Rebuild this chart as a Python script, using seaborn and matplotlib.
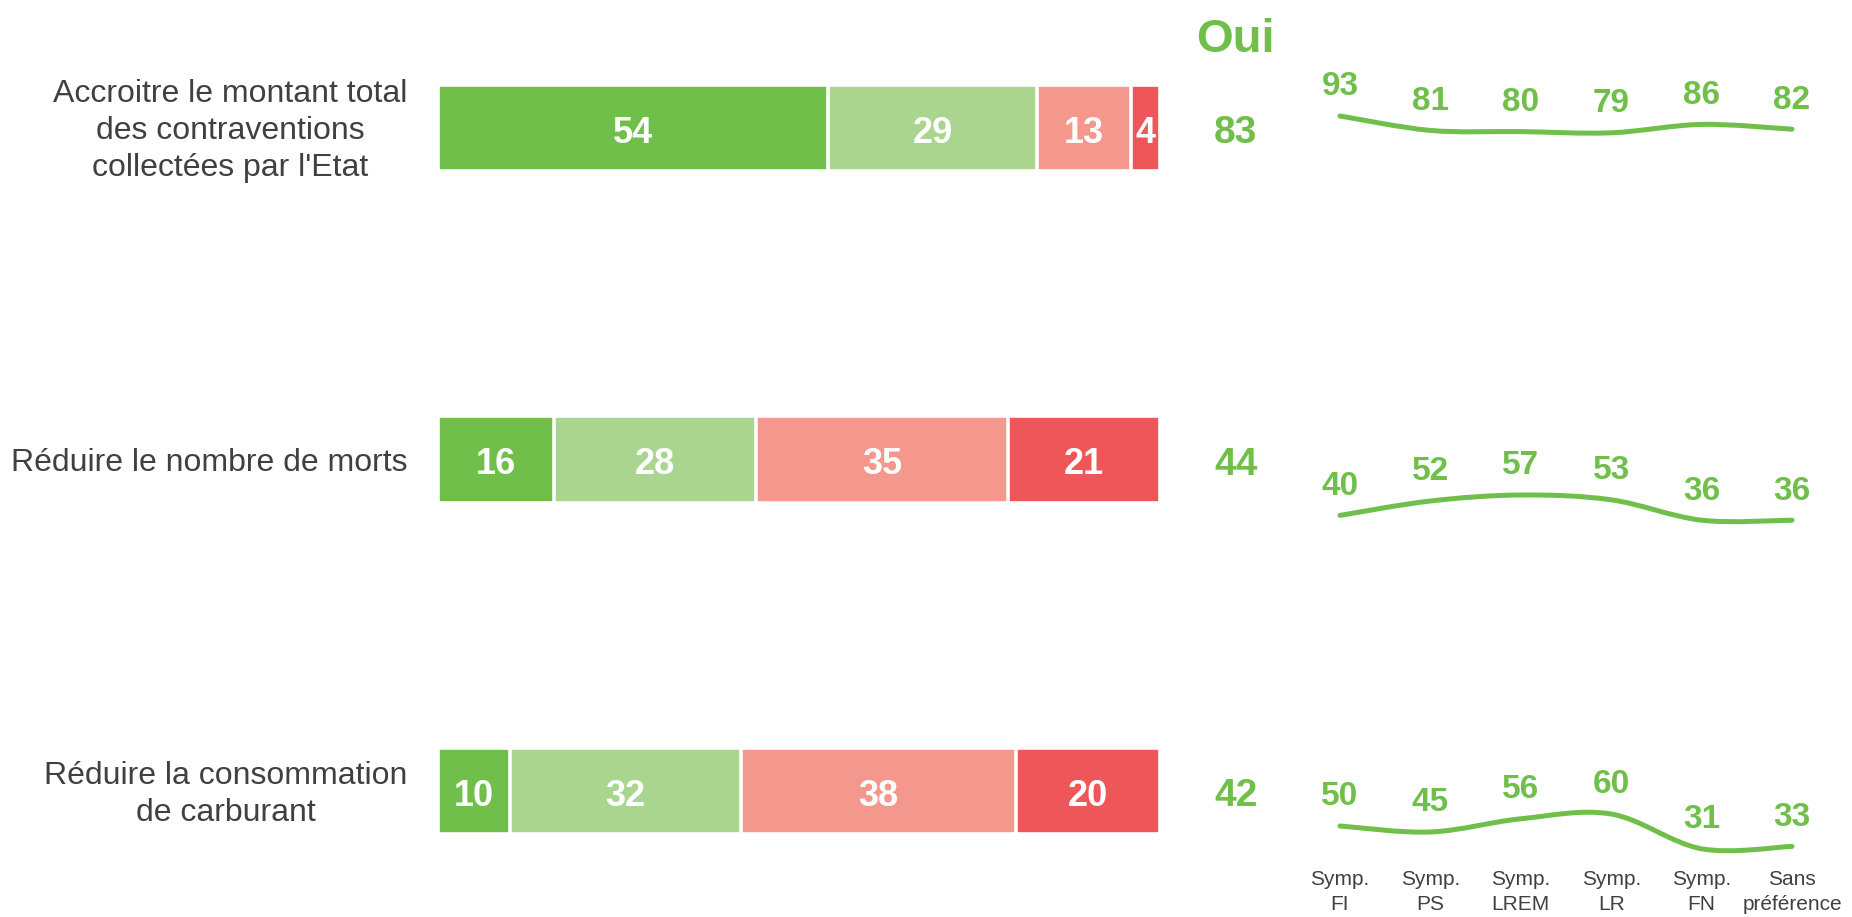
import pandas as pd
import matplotlib.pyplot as plt
import seaborn as sns
from matplotlib.path import Path
from matplotlib.patches import PathPatch

# Données
questions = [
    "Accroitre le montant total\ndes contraventions\ncollectées par l'Etat",
    "Réduire le nombre de morts",
    "Réduire la consommation\nde carburant",
]
oui_tout_a_fait = [54, 16, 10]
oui_plutot = [29, 28, 32]
non_plutot = [13, 35, 38]
non_pas_du_tout = [4, 21, 20]
total_oui = [83, 44, 42]

groupes = ["Symp.\nFI", "Symp.\nPS", "Symp.\nLREM", "Symp.\nLR", "Symp.\nFN", "Sans\npréférence"]
oui_par_groupe = [
    [93, 81, 80, 79, 86, 82],
    [40, 52, 57, 53, 36, 36],
    [50, 45, 56, 60, 31, 33],
]

couleurs = ["#70BF4A", "#AAD58E", "#F4978D", "#EF565A"]
vert = "#70BF4A"
gris = "#404040"
narrow = ["Liberation Sans Narrow", "Liberation Sans", "DejaVu Sans"]

sns.set_theme(style="white")
plt.rcParams["font.family"] = ["Liberation Sans", "DejaVu Sans"]

W, H = 1852, 917
fig = plt.figure(figsize=(W / 100, H / 100), dpi=100)

# Barres empilées (technique des cumuls superposés)
ax = fig.add_axes([438 / W, 1 - 907 / H, 722 / W, (907 - 11.8) / H])
df = pd.DataFrame({
    "question": questions,
    "s1": oui_tout_a_fait,
    "s2": oui_plutot,
    "s3": non_plutot,
    "s4": non_pas_du_tout,
})
df["c1"] = df["s1"]
df["c2"] = df["c1"] + df["s2"]
df["c3"] = df["c2"] + df["s3"]
df["c4"] = df["c3"] + df["s4"]

for col, color in zip(["c4", "c3", "c2", "c1"], couleurs[::-1]):
    sns.barplot(data=df, x=col, y="question", orient="h", color=color,
                width=0.26, edgecolor="white", linewidth=2.6, ax=ax,
                saturation=1)

ax.set_xlim(0, 100)
ax.set_ylim(2.35, -0.35)
ax.axis("off")

dy = 0.016  # petit décalage pour centrer visuellement les chiffres
for i, row in df.iterrows():
    starts = [0, row["c1"], row["c2"], row["c3"]]
    for s, v in zip(starts, [row["s1"], row["s2"], row["s3"], row["s4"]]):
        ax.text(s + v / 2, i + dy, str(v), ha="center", va="center", color="white",
                fontsize=26, fontweight="bold", family=narrow)
    ax.text(-4.2, i + 0.01, row["question"], ha="right", va="center",
            multialignment="center", fontsize=23, color=gris,
            linespacing=1.3)
    ax.text(110.5, i + dy, str(total_oui[i]), ha="center", va="center",
            color=vert, fontsize=28, fontweight="bold", family=narrow)

ax.text(110.5, -0.265, "Oui", ha="center", va="center", color=vert,
        fontsize=34, fontweight="bold", family=narrow)


def courbe_lissee(xs, ys):
    # Catmull-Rom -> Bézier cubique
    pts = list(zip(xs, ys))
    p = [pts[0]] + pts + [pts[-1]]
    verts = [pts[0]]
    codes = [Path.MOVETO]
    for k in range(1, len(p) - 2):
        p0, p1, p2, p3 = p[k - 1], p[k], p[k + 1], p[k + 2]
        c1 = (p1[0] + (p2[0] - p0[0]) / 6, p1[1] + (p2[1] - p0[1]) / 6)
        c2 = (p2[0] - (p3[0] - p1[0]) / 6, p2[1] - (p3[1] - p1[1]) / 6)
        verts += [c1, c2, p2]
        codes += [Path.CURVE4] * 3
    return Path(verts, codes)


# Petites courbes par sympathie partisane
tops = [116, 495, 814]
span = 40
hpx = 48
for r, vals in enumerate(oui_par_groupe):
    sax = fig.add_axes([1340 / W, 1 - (tops[r] + hpx) / H, 452 / W, hpx / H])
    xs = list(range(len(vals)))
    sax.add_patch(PathPatch(courbe_lissee(xs, vals), facecolor="none",
                            edgecolor=vert, linewidth=3.6, capstyle="round",
                            clip_on=False))
    sax.set_xlim(0, len(vals) - 1)
    sax.set_ylim(max(vals) - span, max(vals))
    for x, v in zip(xs, vals):
        sax.annotate(str(v), (x, v), xytext=(0, 21), textcoords="offset points",
                     ha="center", va="center", color=vert, fontsize=24,
                     fontweight="bold", family=narrow, annotation_clip=False)
    sns.despine(ax=sax, left=True, bottom=True)
    sax.set_yticks([])
    if r == 2:
        sax.set_xticks(xs)
        sax.set_xticklabels(groupes, fontsize=15, color=gris, linespacing=1.4)
        sax.tick_params(axis="x", length=0, pad=6)
    else:
        sax.set_xticks([])

fig.savefig("out.png", dpi=100, facecolor="white")
